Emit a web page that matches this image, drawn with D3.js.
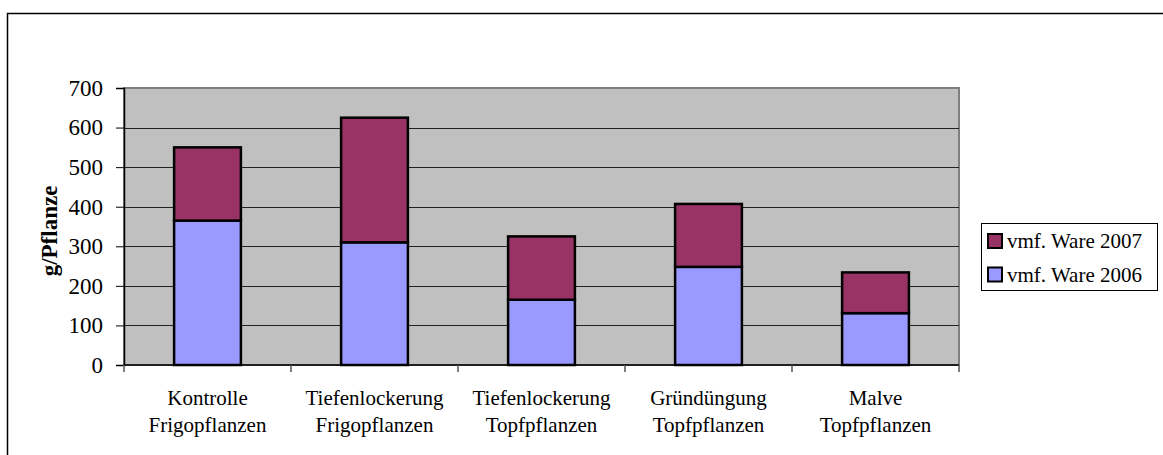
<!DOCTYPE html>
<html>
<head>
<meta charset="utf-8">
<script src="https://cdn.jsdelivr.net/npm/d3@7"></script>
<style>
body { margin: 0; background: #fff; }
svg text { font-family: "Liberation Serif", "Times New Roman", serif; fill: #000; }
</style>
</head>
<body>
<svg id="chart" width="1163" height="455"></svg>
<script>
var categories = [
	["Kontrolle", "Frigopflanzen"],
	["Tiefenlockerung", "Frigopflanzen"],
	["Tiefenlockerung", "Topfpflanzen"],
	["Gründüngung", "Topfpflanzen"],
	["Malve", "Topfpflanzen"]
];
var ware2006 = [365, 310, 165, 248, 131];
var ware2007 = [185, 315, 160, 159, 103];
var seriesNames = ["vmf. Ware 2006", "vmf. Ware 2007"];
var seriesColors = ["#9999ff", "#993366"];
var yTicks = [0, 100, 200, 300, 400, 500, 600, 700];

var serif = "Liberation Serif, Times New Roman, serif";
var svg = d3.select("#chart");

// outer chart frame (runs off the right and bottom edge)
svg.append("rect")
	.attr("x", 7.5).attr("y", 13.5)
	.attr("width", 1170).attr("height", 460)
	.attr("fill", "#fff")
	.attr("stroke", "#000")
	.attr("stroke-width", 1.5);

var plotL = 124, plotT = 88, plotR = 959, plotB = 365;

var x = d3.scaleBand()
	.domain(d3.range(categories.length))
	.range([plotL, plotR])
	.paddingInner(0.6)
	.paddingOuter(0.3);

var xOuter = d3.scaleBand()
	.domain(d3.range(categories.length))
	.range([plotL, plotR]);

var y = d3.scaleLinear()
	.domain([0, 700])
	.range([plotB, plotT]);

// plot area
svg.append("rect")
	.attr("x", plotL).attr("y", plotT)
	.attr("width", plotR - plotL).attr("height", plotB - plotT)
	.attr("fill", "#c0c0c0")
	.attr("stroke", "#808080")
	.attr("stroke-width", 2);

// gridlines
svg.append("g")
	.selectAll("line")
	.data(yTicks.slice(1, -1))
	.enter().append("line")
	.attr("x1", plotL).attr("x2", plotR)
	.attr("y1", function(d) { return Math.round(y(d)) + 0.5; })
	.attr("y2", function(d) { return Math.round(y(d)) + 0.5; })
	.attr("stroke", "#222")
	.attr("stroke-width", 1);

// stacked bars
var rows = categories.map(function(c, i) {
	return { i: i, a: ware2006[i], b: ware2007[i] };
});
var stack = d3.stack().keys(["a", "b"]);
var layers = stack(rows);

svg.append("g")
	.selectAll("g")
	.data(layers)
	.enter().append("g")
	.attr("fill", function(d, i) { return seriesColors[i]; })
	.selectAll("rect")
	.data(function(d) { return d; })
	.enter().append("rect")
	.attr("x", function(d) { return x(d.data.i); })
	.attr("width", x.bandwidth())
	.attr("y", function(d) { return y(d[1]); })
	.attr("height", function(d) { return y(d[0]) - y(d[1]); })
	.attr("stroke", "#000")
	.attr("stroke-width", 2.5);

// y axis
var yAxis = svg.append("g")
	.attr("transform", "translate(" + plotL + ",0)")
	.call(d3.axisLeft(y).tickValues(yTicks).tickSize(8).tickPadding(13));
yAxis.select(".domain").attr("stroke", "#000").attr("stroke-width", 1.5);
yAxis.selectAll(".tick line").attr("stroke", "#000");
yAxis.selectAll("text")
	.attr("font-family", serif)
	.attr("font-size", 23)
	.attr("fill", "#000");

// x axis
svg.append("line")
	.attr("x1", plotL).attr("x2", plotR)
	.attr("y1", plotB).attr("y2", plotB)
	.attr("stroke", "#000").attr("stroke-width", 1.5);

svg.append("g")
	.selectAll("line")
	.data(d3.range(categories.length + 1))
	.enter().append("line")
	.attr("x1", function(d) { return d < categories.length ? xOuter(d) : plotR; })
	.attr("x2", function(d) { return d < categories.length ? xOuter(d) : plotR; })
	.attr("y1", plotB).attr("y2", plotB + 7)
	.attr("stroke", "#555").attr("stroke-width", 1.5);

var labels = svg.append("g")
	.selectAll("text")
	.data(categories)
	.enter().append("text")
	.attr("text-anchor", "middle")
	.attr("font-family", serif)
	.attr("font-size", 21)
	.attr("transform", function(d, i) {
		return "translate(" + (xOuter(i) + xOuter.bandwidth() / 2) + ",405)";
	});
labels.append("tspan").attr("x", 0).attr("y", 0).text(function(d) { return d[0]; });
labels.append("tspan").attr("x", 0).attr("y", 27).text(function(d) { return d[1]; });

// axis title
svg.append("text")
	.attr("transform", "translate(57,231) rotate(-90)")
	.attr("text-anchor", "middle")
	.attr("font-family", serif)
	.attr("font-size", 23)
	.attr("font-weight", "bold")
	.text("g/Pflanze");

// legend
var legend = svg.append("g");
legend.append("rect")
	.attr("x", 981.5).attr("y", 223.5)
	.attr("width", 176).attr("height", 67)
	.attr("fill", "#fff")
	.attr("stroke", "#000").attr("stroke-width", 1);

var legendOrder = [1, 0];
var item = legend.selectAll(".item")
	.data(legendOrder)
	.enter().append("g")
	.attr("transform", function(d, k) { return "translate(988," + (234 + k * 33.5) + ")"; });
item.append("rect")
	.attr("width", 14).attr("height", 14)
	.attr("fill", function(d) { return seriesColors[d]; })
	.attr("stroke", "#000").attr("stroke-width", 2);
item.append("text")
	.attr("x", 19).attr("y", 14)
	.attr("font-family", serif)
	.attr("font-size", 21)
	.text(function(d) { return seriesNames[d]; });
</script>
</body>
</html>
